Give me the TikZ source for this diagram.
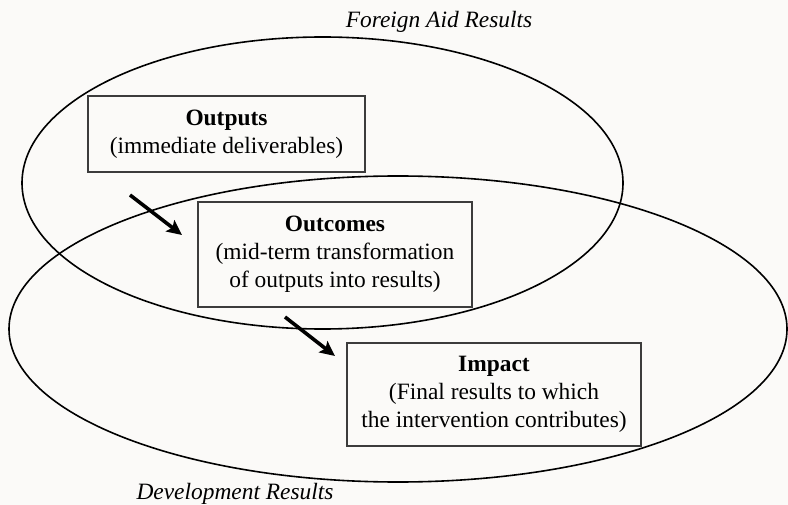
\documentclass[tikz,border=0pt]{standalone}
\usepackage{fontspec}
\setmainfont{Liberation Serif}
\usetikzlibrary{shapes.geometric,arrows.meta}
\definecolor{bgc}{RGB}{251,250,248}
\definecolor{boxline}{RGB}{60,60,60}
\tikzset{
  ring/.style={ellipse,draw=black,line width=1.6bp,inner sep=0pt,outer sep=0pt},
  resbox/.style={draw=boxline,line width=1.3bp,fill=bgc,align=center,inner sep=0pt,outer sep=0pt,
    font=\fontsize{23.5}{28}\selectfont},
  flow/.style={line width=3.6bp,-{Stealth[length=15bp,width=14bp,inset=3bp]}},
  setlabel/.style={font=\fontsize{23.5}{28}\selectfont\itshape,inner sep=0pt}
}
\begin{document}
\begin{tikzpicture}[x=1bp,y=-1bp]
\fill[bgc] (0,0) rectangle (788,505);
\useasboundingbox (0,0) rectangle (788,505);
\node[ring,minimum width=601bp,minimum height=292bp] (aid) at (322.5,183) {};
\node[ring,minimum width=778bp,minimum height=306bp] (dev) at (398,329) {};
\node[setlabel] (aidlab) at (439,22) {Foreign Aid Results};
\node[setlabel] (devlab) at (235,494) {Development Results};
\node[resbox,minimum width=277bp,minimum height=76bp] (outputs) at (226.5,134)
  {\textbf{Outputs}\\(immediate deliverables)};
\node[resbox,minimum width=274bp,minimum height=105bp] (outcomes) at (335,254.5)
  {\textbf{Outcomes}\\(mid-term transformation\\of outputs into results)};
\node[resbox,minimum width=294bp,minimum height=103bp] (impact) at (494,394.5)
  {\textbf{Impact}\\(Final results to which\\the intervention contributes)};
\coordinate (a1s) at (130,195);
\coordinate (a1e) at (182,235);
\coordinate (a2s) at (285,317);
\coordinate (a2e) at (335,356);
\draw[flow] (a1s) -- (a1e);
\draw[flow] (a2s) -- (a2e);
\end{tikzpicture}
\end{document}
